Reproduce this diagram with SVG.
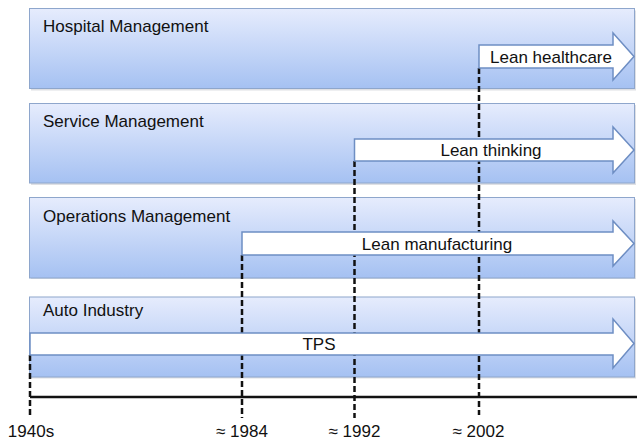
<svg xmlns="http://www.w3.org/2000/svg" width="637" height="442" viewBox="0 0 637 442">
  <defs>
    <linearGradient id="bandFill" x1="0" y1="0" x2="0" y2="1">
      <stop offset="0" stop-color="#e6ecfd"/>
      <stop offset="1" stop-color="#a5c1f2"/>
    </linearGradient>
  </defs>
  <style>
    .shadow { fill: #c9ccd2; opacity: 0.6; }
    .band { fill: url(#bandFill); stroke: #8ea6cc; stroke-width: 1; }
    .arrow { fill: #ffffff; stroke: #6e8ec3; stroke-width: 1.5; stroke-linejoin: miter; }
    .label { font-family: "Liberation Sans", Arial, sans-serif; font-size: 17px; fill: #111111; }
    .mid { text-anchor: middle; }
    .year { font-family: "Liberation Sans", Arial, sans-serif; font-size: 17px; fill: #111111; text-anchor: middle; }
    .dash { stroke: #111111; stroke-width: 2.5; stroke-dasharray: 6 3; fill: none; }
    .axis { stroke: #111111; stroke-width: 2.5; fill: none; }
  </style>

  <!-- Sector bands -->
  <g id="band-hospital">
    <rect class="shadow" x="31" y="10.5" width="605" height="80"/>
    <rect class="band" x="29.5" y="8.5" width="605" height="80"/>
    <text class="label" x="43" y="32">Hospital Management</text>
  </g>
  <g id="band-service">
    <rect class="shadow" x="31" y="105" width="605" height="80"/>
    <rect class="band" x="29.5" y="103.5" width="605" height="79.5"/>
    <text class="label" x="43" y="127">Service Management</text>
  </g>
  <g id="band-operations">
    <rect class="shadow" x="31" y="199" width="605" height="80"/>
    <rect class="band" x="29.5" y="197.5" width="605" height="80.5"/>
    <text class="label" x="43" y="222">Operations Management</text>
  </g>
  <g id="band-auto">
    <rect class="shadow" x="31" y="298.5" width="605" height="80"/>
    <rect class="band" x="29.5" y="297" width="605" height="80"/>
    <text class="label" x="43" y="316">Auto Industry</text>
  </g>

  <!-- Time axis and dashed year markers -->
  <g id="connectors">
    <line class="axis" x1="30" y1="397" x2="637" y2="397"/>
    <line class="dash" x1="30" y1="355" x2="30" y2="415"/>
    <line class="dash" x1="242" y1="255" x2="242" y2="418"/>
    <line class="dash" x1="354.5" y1="161" x2="354.5" y2="418"/>
    <line class="dash" x1="479" y1="68" x2="479" y2="415"/>
  </g>

  <!-- Concept arrows -->
  <g id="arrow-lean-healthcare">
    <path class="arrow" d="M479 45 H613 V33 L634 56.5 L613 80 V68 H479 Z"/>
    <text class="label mid" x="551" y="62.5">Lean healthcare</text>
  </g>
  <g id="arrow-lean-thinking">
    <path class="arrow" d="M354.5 139 H613 V127 L634 150 L613 173 V161 H354.5 Z"/>
    <text class="label mid" x="491" y="156">Lean thinking</text>
  </g>
  <g id="arrow-lean-manufacturing">
    <path class="arrow" d="M242 232 H613 V221 L634 243.5 L613 266 V255 H242 Z"/>
    <text class="label mid" x="437" y="249.5">Lean manufacturing</text>
  </g>
  <g id="arrow-tps">
    <path class="arrow" d="M30 333 H613 V319 L634 343.5 L613 368 V355 H30 Z"/>
    <text class="label mid" x="319" y="350">TPS</text>
  </g>

  <!-- Year labels -->
  <g id="years">
    <text class="year" x="31" y="437">1940s</text>
    <text class="year" x="242" y="437">≈ 1984</text>
    <text class="year" x="354.5" y="437">≈ 1992</text>
    <text class="year" x="478.5" y="437">≈ 2002</text>
  </g>
</svg>
